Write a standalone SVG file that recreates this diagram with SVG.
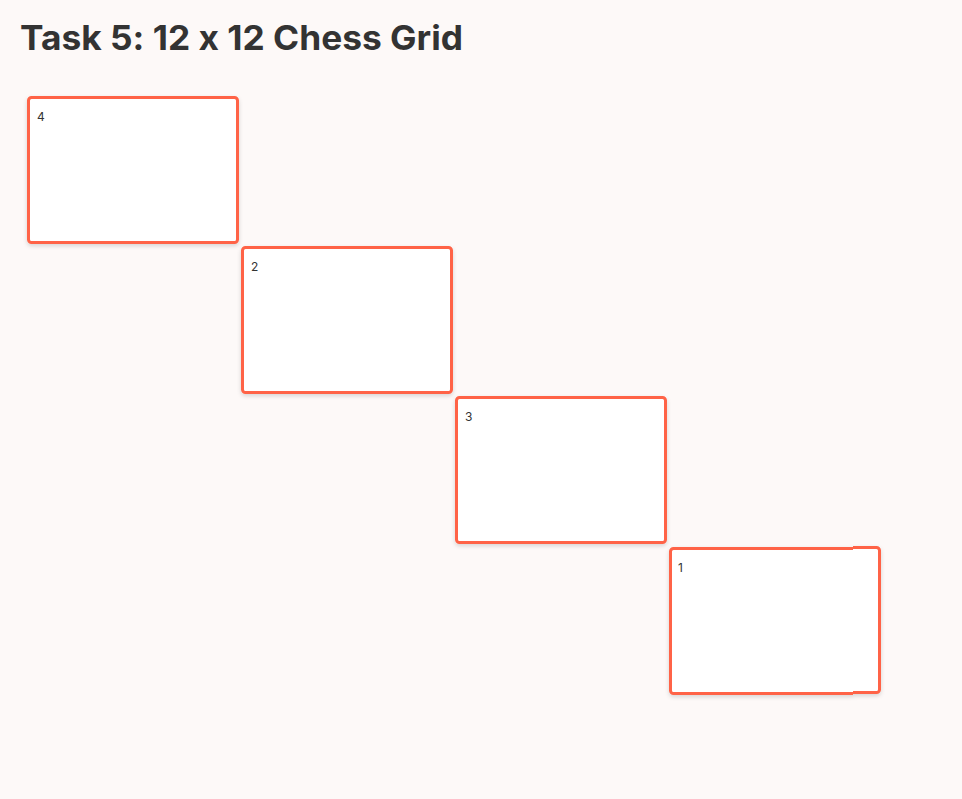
<svg xmlns="http://www.w3.org/2000/svg" width="962" height="799" viewBox="0 0 962 799">
<style>
.bg{fill:#fdf9f8}
.title{font-family:Inter,"Open Sans","Liberation Sans",sans-serif;font-weight:700;font-size:34px;fill:#333333;font-feature-settings:"calt" 0;font-variant-ligatures:none}
.cell{fill:#ffffff;stroke:#ff6347;stroke-width:3}
.lbl{font-family:Inter,"Open Sans","Liberation Sans",sans-serif;font-size:12px;fill:#333333}
</style>
<defs>
<filter id="sh" x="-10%" y="-10%" width="120%" height="130%">
<feDropShadow dx="0" dy="2" stdDeviation="2" flood-color="#000" flood-opacity="0.15"/>
</filter>
<clipPath id="cl"><rect x="660" y="530" width="193" height="180"/></clipPath>
<clipPath id="cr"><rect x="853" y="530" width="40" height="180"/></clipPath>
</defs>
<rect class="bg" x="0" y="0" width="962" height="799"/>
<text class="title" x="20" y="50" textLength="443" lengthAdjust="spacingAndGlyphs">Task 5: 12 x 12 Chess Grid</text>
<g id="node4">
<rect class="cell" x="28.5" y="97.5" width="209" height="145" rx="3" filter="url(#sh)"/>
<text class="lbl" x="37" y="121">4</text>
</g>
<g id="node2">
<rect class="cell" x="242.5" y="247.5" width="209" height="145" rx="3" filter="url(#sh)"/>
<text class="lbl" x="251" y="271">2</text>
</g>
<g id="node3">
<rect class="cell" x="456.5" y="397.5" width="209" height="145" rx="3" filter="url(#sh)"/>
<text class="lbl" x="465" y="421">3</text>
</g>
<g id="node1">
<g filter="url(#sh)">
<rect class="cell" x="670.5" y="548.5" width="209" height="145" rx="3" clip-path="url(#cl)"/>
<rect class="cell" x="670.5" y="547.5" width="209" height="145" rx="3" clip-path="url(#cr)"/>
</g>
<text class="lbl" x="678" y="572">1</text>
</g>
<g id="connectors"></g>
</svg>
